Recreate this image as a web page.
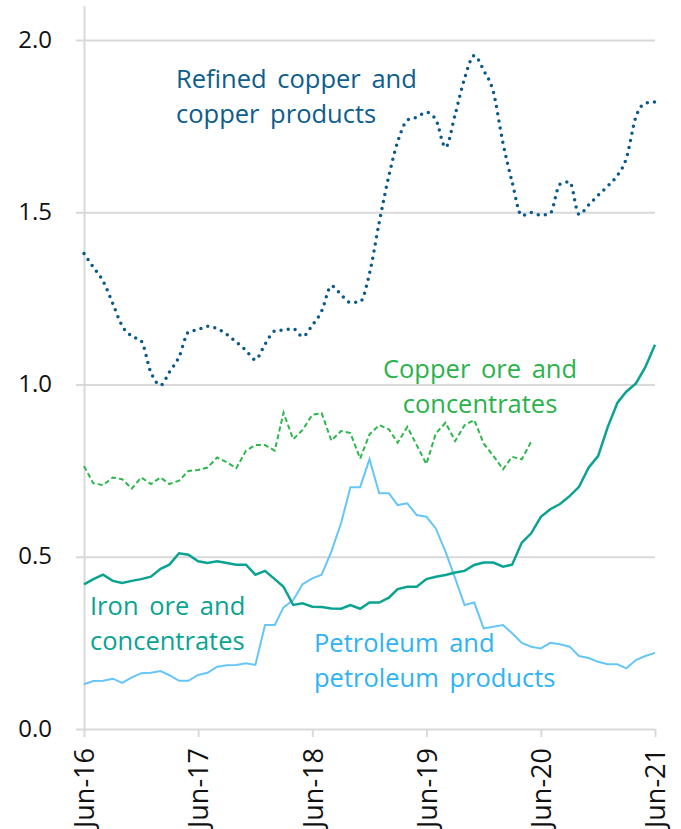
<!DOCTYPE html>
<html>
<head>
<meta charset="utf-8">
<script src="https://cdn.jsdelivr.net/npm/d3@7"></script>
<style>
  body { margin: 0; background: #fff; }
  svg { display: block; font-family: "Open Sans", sans-serif; }
</style>
</head>
<body>
<script>
const WIDTH = 681;
const HEIGHT = 829;
const MARGIN = { top: 5.5, right: 26, bottom: 100, left: 84 };

// monthly categories, Jun-16 .. Jun-21
const months = [
  "2016-06", "2016-07", "2016-08", "2016-09", "2016-10", "2016-11", "2016-12",
  "2017-01", "2017-02", "2017-03", "2017-04", "2017-05", "2017-06", "2017-07",
  "2017-08", "2017-09", "2017-10", "2017-11", "2017-12", "2018-01", "2018-02",
  "2018-03", "2018-04", "2018-05", "2018-06", "2018-07", "2018-08", "2018-09",
  "2018-10", "2018-11", "2018-12", "2019-01", "2019-02", "2019-03", "2019-04",
  "2019-05", "2019-06", "2019-07", "2019-08", "2019-09", "2019-10", "2019-11",
  "2019-12", "2020-01", "2020-02", "2020-03", "2020-04", "2020-05", "2020-06",
  "2020-07", "2020-08", "2020-09", "2020-10", "2020-11", "2020-12", "2021-01",
  "2021-02", "2021-03", "2021-04", "2021-05", "2021-06"
];

const tickMonths = ["2016-06", "2017-06", "2018-06", "2019-06", "2020-06", "2021-06"];
const yTicks = [0, 0.5, 1.0, 1.5, 2.0];

const refinedCopper = [
  1.38, 1.34, 1.30, 1.235, 1.17, 1.14, 1.126, 1.035, 0.998, 1.036,
  1.08, 1.152, 1.159, 1.169, 1.162, 1.145, 1.123, 1.099, 1.072, 1.117,
  1.155, 1.158, 1.162, 1.139, 1.172, 1.213, 1.286, 1.261, 1.238, 1.24,
  1.322, 1.47, 1.606, 1.704, 1.767, 1.776, 1.79, 1.769, 1.688, 1.784,
  1.888, 1.955, 1.912, 1.849, 1.70, 1.588, 1.49, 1.499, 1.491, 1.497,
  1.581, 1.588, 1.494, 1.521, 1.549, 1.576, 1.607, 1.655, 1.777, 1.816,
  1.82
];

const copperOre = [
  0.763, 0.713, 0.708, 0.730, 0.725, 0.698, 0.730, 0.711, 0.730, 0.711,
  0.721, 0.749, 0.752, 0.759, 0.788, 0.774, 0.757, 0.808, 0.824, 0.824,
  0.808, 0.918, 0.841, 0.868, 0.912, 0.917, 0.837, 0.865, 0.859, 0.785,
  0.855, 0.882, 0.870, 0.831, 0.877, 0.824, 0.769, 0.858, 0.889, 0.836,
  0.882, 0.897, 0.829, 0.793, 0.754, 0.790, 0.783, 0.834
];

const ironOre = [
  0.420, 0.435, 0.448, 0.430, 0.424, 0.430, 0.435, 0.442, 0.465, 0.477,
  0.510, 0.506, 0.487, 0.482, 0.487, 0.482, 0.477, 0.477, 0.448, 0.459,
  0.435, 0.413, 0.360, 0.365, 0.355, 0.354, 0.350, 0.349, 0.360, 0.349,
  0.367, 0.367, 0.381, 0.406, 0.413, 0.413, 0.435, 0.442, 0.447, 0.454,
  0.459, 0.476, 0.483, 0.483, 0.471, 0.477, 0.541, 0.568, 0.616, 0.638,
  0.653, 0.676, 0.703, 0.759, 0.792, 0.877, 0.947, 0.979, 1.003, 1.050,
  1.115
];

const petroleum = [
  0.130, 0.139, 0.140, 0.146, 0.134, 0.150, 0.162, 0.163, 0.168, 0.156,
  0.140, 0.140, 0.157, 0.163, 0.181, 0.185, 0.186, 0.191, 0.186, 0.302,
  0.302, 0.353, 0.374, 0.420, 0.437, 0.448, 0.515, 0.597, 0.702, 0.702,
  0.783, 0.684, 0.684, 0.650, 0.655, 0.621, 0.616, 0.582, 0.515, 0.437,
  0.360, 0.367, 0.292, 0.297, 0.302, 0.278, 0.250, 0.239, 0.234, 0.250,
  0.246, 0.239, 0.212, 0.206, 0.195, 0.188, 0.188, 0.176, 0.200, 0.212,
  0.221
];

const parseMonth = d3.timeParse("%Y-%m");
const dates = months.map(parseMonth);

const x = d3
  .scaleTime()
  .domain([dates[0], dates[dates.length - 1]])
  .range([MARGIN.left, WIDTH - MARGIN.right]);

const y = d3
  .scaleLinear()
  .domain([0, 2.1])
  .range([HEIGHT - MARGIN.bottom, MARGIN.top]);

const svg = d3
  .select("body")
  .append("svg")
  .attr("width", WIDTH)
  .attr("height", HEIGHT);

// y gridlines + labels
svg
  .append("g")
  .attr("class", "y-axis")
  .attr("transform", `translate(${MARGIN.left},0)`)
  .call(
    d3
      .axisLeft(y)
      .tickValues(yTicks)
      .tickSizeInner(-(WIDTH - MARGIN.left - MARGIN.right))
      .tickSizeOuter(0)
      .tickPadding(32)
      .tickFormat(d3.format(".1f"))
  )
  .call(g => g.select(".domain").attr("stroke", "#d9d9d9").attr("stroke-width", 2))
  .call(g =>
    g
      .selectAll(".tick line")
      .attr("x1", -8)
      .attr("stroke", "#d9d9d9")
      .attr("stroke-width", 2)
  )
  .call(g =>
    g
      .selectAll(".tick text")
      .attr("font-size", 24)
      .attr("font-family", "Open Sans")
      .attr("fill", "#111")
      .attr("dy", "0.3em")
  );

// x axis ticks + rotated labels
svg
  .append("g")
  .attr("class", "x-axis")
  .attr("transform", `translate(0,${HEIGHT - MARGIN.bottom})`)
  .call(
    d3
      .axisBottom(x)
      .tickValues(tickMonths.map(parseMonth))
      .tickSizeOuter(0)
      .tickSize(8)
      .tickFormat(d3.timeFormat("%b-%y"))
  )
  .call(g => g.select(".domain").remove())
  .call(g => g.selectAll(".tick line").attr("stroke", "#d9d9d9").attr("stroke-width", 2))
  .call(g =>
    g
      .selectAll(".tick text")
      .attr("transform", "rotate(-90)")
      .attr("text-anchor", "end")
      .attr("x", -19)
      .attr("y", 0)
      .attr("dy", "0.36em")
      .attr("font-size", 27)
      .attr("font-family", "Open Sans")
      .attr("fill", "#111")
  );

const line = d3
  .line()
  .x((d, i) => x(dates[i]))
  .y(d => y(d));

const smooth = d3
  .line()
  .curve(d3.curveMonotoneX)
  .x((d, i) => x(dates[i]))
  .y(d => y(d));

svg
  .append("path")
  .datum(petroleum)
  .attr("fill", "none")
  .attr("stroke", "#66c6f7")
  .attr("stroke-width", 2)
  .attr("d", line);

svg
  .append("path")
  .datum(ironOre)
  .attr("fill", "none")
  .attr("stroke", "#0aa391")
  .attr("stroke-width", 2.5)
  .attr("d", line);

svg
  .append("path")
  .datum(copperOre)
  .attr("fill", "none")
  .attr("stroke", "#2db84d")
  .attr("stroke-width", 2)
  .attr("stroke-dasharray", "5 3")
  .attr("d", line);

svg
  .append("path")
  .datum(refinedCopper)
  .attr("fill", "none")
  .attr("stroke", "#0b5a8a")
  .attr("stroke-width", 3.5)
  .attr("stroke-linecap", "round")
  .attr("stroke-dasharray", "0 7.2")
  .attr("d", smooth);

// series labels
const labels = [
  { lines: ["Refined copper and", "copper products"], x: 176, y: 88, anchor: "start", color: "#0e5d8c" },
  { lines: ["Copper ore and", "concentrates"], x: 480, y: 378, anchor: "middle", color: "#2bb24c" },
  { lines: ["Iron ore and", "concentrates"], x: 90, y: 615, anchor: "start", color: "#0aa391" },
  { lines: ["Petroleum and", "petroleum products"], x: 314, y: 652, anchor: "start", color: "#2fb3f2" }
];

labels.forEach(l => {
  const t = svg
    .append("text")
    .attr("x", l.x)
    .attr("y", l.y)
    .attr("text-anchor", l.anchor)
    .attr("fill", l.color)
    .attr("font-size", 25.5)
    .attr("word-spacing", 4);
  l.lines.forEach((s, i) => {
    t.append("tspan").attr("x", l.x).attr("dy", i === 0 ? 0 : 35).text(s);
  });
});
</script>
</body>
</html>
